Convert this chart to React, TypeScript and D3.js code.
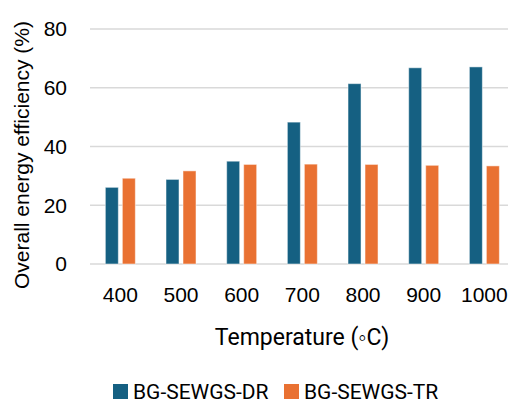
import React, { useEffect, useRef } from 'react';
import * as d3 from 'd3';

const categories = ['400', '500', '600', '700', '800', '900', '1000'];
const seriesNames = ['BG-SEWGS-DR', 'BG-SEWGS-TR'];
const drValues = [26.1, 28.8, 35.0, 48.3, 61.4, 66.8, 67.1];
const trValues = [29.2, 31.7, 33.9, 34.0, 33.9, 33.6, 33.4];
const yTicks = [0, 20, 40, 60, 80];
const colors = ['#156082', '#E97132'];

const WIDTH = 508;
const HEIGHT = 403;

const App = () => {
  const ref = useRef<SVGSVGElement>(null);

  useEffect(() => {
    const svg = d3.select(ref.current);
    svg.selectAll('*').remove();

    const left = 90;
    const right = 514.7;
    const top = 29;
    const bottom = 264;

    const x0 = d3.scaleBand<string>().domain(categories).range([left, right])
      .paddingInner(0.5055).paddingOuter(0.5055 / 2);
    const x1 = d3.scaleBand<string>().domain(seriesNames).range([0, x0.bandwidth()])
      .paddingInner(4 / 17);
    const y = d3.scaleLinear().domain([0, 80]).range([bottom, top]);

    // gridlines
    svg.append('g')
      .selectAll('line')
      .data(yTicks)
      .enter()
      .append('line')
      .attr('x1', left)
      .attr('x2', WIDTH)
      .attr('y1', (d) => y(d))
      .attr('y2', (d) => y(d))
      .attr('stroke', '#d9d9d9')
      .attr('stroke-width', 1.5);

    // y tick labels
    svg.append('g')
      .selectAll('text')
      .data(yTicks)
      .enter()
      .append('text')
      .attr('x', 67)
      .attr('y', (d) => y(d))
      .attr('dy', '0.35em')
      .attr('text-anchor', 'end')
      .attr('font-family', 'Liberation Sans, Arial, sans-serif')
      .attr('font-size', 21)
      .attr('fill', '#000')
      .text((d) => d);

    // bars
    const data = categories.map((c, i) => ({ cat: c, vals: [drValues[i], trValues[i]] }));
    const groups = svg.append('g')
      .selectAll('g')
      .data(data)
      .enter()
      .append('g')
      .attr('transform', (d) => `translate(${x0(d.cat)},0)`);

    groups.selectAll('rect')
      .data((d) => d.vals.map((v, j) => ({ key: seriesNames[j], v, j })))
      .enter()
      .append('rect')
      .attr('x', (d) => x1(d.key) as number)
      .attr('width', x1.bandwidth())
      .attr('y', (d) => y(d.v))
      .attr('height', (d) => y(0) - y(d.v))
      .attr('fill', (d) => colors[d.j])
      .attr('stroke', 'rgba(255,255,255,0.5)')
      .attr('stroke-width', 1);

    // x tick labels
    svg.append('g')
      .selectAll('text')
      .data(categories)
      .enter()
      .append('text')
      .attr('x', (d) => (x0(d) as number) + x0.bandwidth() / 2)
      .attr('y', 302)
      .attr('text-anchor', 'middle')
      .attr('font-family', 'Liberation Sans, Arial, sans-serif')
      .attr('font-size', 21)
      .attr('fill', '#000')
      .text((d) => d);

    // x axis title
    svg.append('text')
      .attr('x', 302)
      .attr('y', 345)
      .attr('text-anchor', 'middle')
      .attr('font-family', 'Roboto, sans-serif')
      .attr('font-size', 23)
      .attr('fill', '#000')
      .text('Temperature (◦C)');

    // y axis title
    svg.append('text')
      .attr('transform', 'translate(29,155) rotate(-90)')
      .attr('text-anchor', 'middle')
      .attr('font-family', 'Liberation Sans, Arial, sans-serif')
      .attr('font-size', 21)
      .attr('fill', '#000')
      .text('Overall energy efficiency (%)');

    // legend
    const legendX = [113, 284];
    const legend = svg.append('g')
      .selectAll('g')
      .data(seriesNames)
      .enter()
      .append('g')
      .attr('transform', (d, i) => `translate(${legendX[i]},384)`);
    legend.append('rect')
      .attr('width', 15)
      .attr('height', 15)
      .attr('fill', (d, i) => colors[i]);
    legend.append('text')
      .attr('x', 20)
      .attr('y', 15)
      .attr('font-family', 'Roboto, sans-serif')
      .attr('font-size', 21)
      .attr('fill', '#000')
      .text((d) => d);
  }, []);

  return (
    <svg
      ref={ref}
      width={WIDTH}
      height={HEIGHT}
      style={{ position: 'absolute', left: 0, top: 0, background: '#fff' }}
    />
  );
};

export default App;
